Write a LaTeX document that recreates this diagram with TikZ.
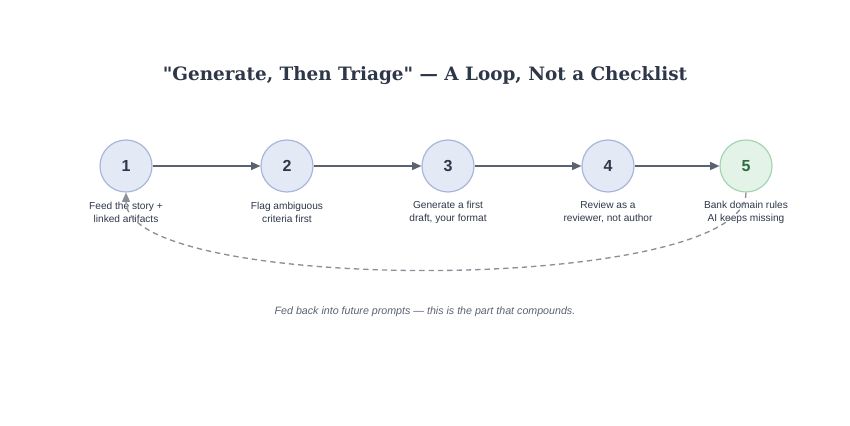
\documentclass[tikz,border=0pt]{standalone}
\usepackage{fontspec}
\setmainfont{Liberation Sans}
\newfontfamily\titlefont{DejaVu Serif}
\usetikzlibrary{arrows.meta}
\definecolor{stepfill}{HTML}{E4E9F6}
\definecolor{stepline}{HTML}{A9B6DC}
\definecolor{bankfill}{HTML}{E3F3E8}
\definecolor{bankline}{HTML}{A6D4B3}
\definecolor{banktext}{HTML}{2E6B45}
\definecolor{ink}{HTML}{2D3748}
\definecolor{arrowgray}{HTML}{5A6270}
\definecolor{loopgray}{HTML}{8A8F99}
\tikzset{
  stage/.style={circle, draw=stepline, fill=stepfill, line width=0.9pt, minimum size=39pt, inner sep=0pt, text=ink, font=\fontsize{12}{14}\selectfont\bfseries},
  bank/.style={stage, draw=bankline, fill=bankfill, text=banktext},
  caption/.style={align=center, text=ink, font=\fontsize{7.6}{9.8}\selectfont},
  flow/.style={-{Triangle[length=7pt,width=6pt]}, draw=arrowgray, line width=1.1pt}
}
\begin{document}
\begin{tikzpicture}[x=0.75pt,y=0.75pt]
\useasboundingbox (0,0) rectangle (850,425);
\node (title) at (425,349) {\titlefont\bfseries\fontsize{13.8}{17}\selectfont\color{ink}"Generate, Then Triage" — A Loop, Not a Checklist};

\node (s1) [stage] at (126,259) {1};
\node (s2) [stage] at (287,259) {2};
\node (s3) [stage] at (448,259) {3};
\node (s4) [stage] at (608,259) {4};
\node (s5) [bank] at (746,259) {5};

\node (c1) [caption] at (126,213) {Feed the story +\\linked artifacts};
\node (c2) [caption] at (287,213) {Flag ambiguous\\criteria first};
\node (c3) [caption] at (448,213) {Generate a first\\draft, your format};
\node (c4) [caption] at (608,213) {Review as a\\reviewer, not author};
\node (c5) [caption] at (746,213) {Bank domain rules\\AI keeps missing};

\draw[flow] (s1) -- (s2);
\draw[flow] (s2) -- (s3);
\draw[flow] (s3) -- (s4);
\draw[flow] (s4) -- (s5);

\draw[-{Triangle[length=7pt,width=6pt]}, draw=loopgray, line width=1pt, dash pattern=on 4pt off 3pt]
  (s5.south) .. controls (746,130) and (126,130) .. (s1.south);

\node (note) at (425,113) {\fontsize{8}{10}\selectfont\itshape\color{arrowgray}Fed back into future prompts — this is the part that compounds.};
\end{tikzpicture}
\end{document}
